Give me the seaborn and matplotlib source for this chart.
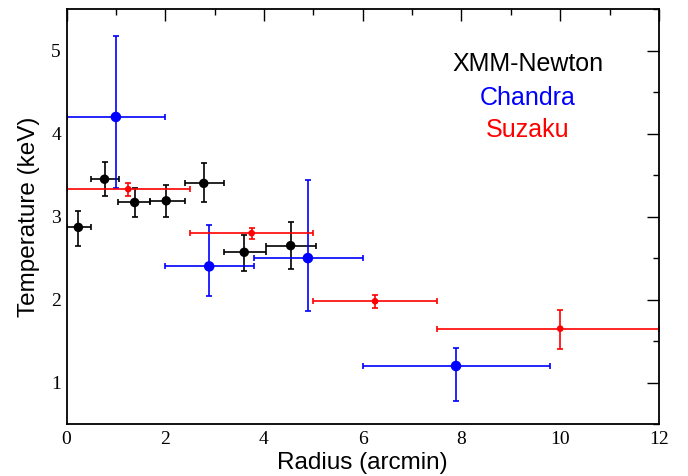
import matplotlib
matplotlib.use("Agg")
import matplotlib.pyplot as plt
import seaborn as sns
import pandas as pd
from matplotlib.ticker import MultipleLocator

# XMM-Newton temperature profile
xmm_r = [0.24, 0.77, 1.38, 2.02, 2.78, 3.60, 4.54]
xmm_rlo = [0.0, 0.49, 1.05, 1.70, 2.39, 3.18, 4.04]
xmm_rhi = [0.49, 1.07, 1.70, 2.39, 3.18, 4.04, 5.05]
xmm_t = [2.87, 3.45, 3.17, 3.19, 3.40, 2.57, 2.65]
xmm_tlo = [2.64, 3.25, 2.99, 2.99, 3.17, 2.35, 2.37]
xmm_thi = [3.07, 3.66, 3.34, 3.38, 3.64, 2.78, 2.93]

# Chandra temperature profile
chandra_r = [1.0, 2.89, 4.89, 7.89]
chandra_rlo = [0.0, 2.0, 3.8, 6.0]
chandra_rhi = [2.0, 3.8, 6.0, 9.8]
chandra_t = [4.20, 2.40, 2.50, 1.20]
chandra_tlo = [3.34, 2.04, 1.86, 0.78]
chandra_thi = [5.18, 2.90, 3.44, 1.42]

# Suzaku temperature profile
suzaku_r = [1.25, 3.75, 6.25, 10.0]
suzaku_rlo = [0.0, 2.5, 5.0, 7.5]
suzaku_rhi = [2.5, 5.0, 7.5, 12.0]
suzaku_t = [3.33, 2.80, 1.98, 1.65]
suzaku_tlo = [3.25, 2.73, 1.90, 1.41]
suzaku_thi = [3.40, 2.86, 2.05, 1.88]

sns.set_theme(style="white")
plt.rcParams["font.family"] = ["Liberation Sans", "DejaVu Sans"]

fig = plt.figure(figsize=(6.88, 4.76), dpi=100)
ax = fig.add_axes([0.0967, 0.109, 0.861, 0.872])

series = [
    ("XMM-Newton", "black", 6.8, xmm_r, xmm_rlo, xmm_rhi, xmm_t, xmm_tlo, xmm_thi),
    ("Chandra", "blue", 7.6, chandra_r, chandra_rlo, chandra_rhi, chandra_t, chandra_tlo, chandra_thi),
    ("Suzaku", "red", 4.8, suzaku_r, suzaku_rlo, suzaku_rhi, suzaku_t, suzaku_tlo, suzaku_thi),
]

for name, color, ms, r, rlo, rhi, t, tlo, thi in series:
    df = pd.DataFrame({"r": r, "rlo": rlo, "rhi": rhi, "t": t, "tlo": tlo, "thi": thi})
    xerr = [df["r"] - df["rlo"], df["rhi"] - df["r"]]
    yerr = [df["t"] - df["tlo"], df["thi"] - df["t"]]
    ax.errorbar(df["r"], df["t"], xerr=xerr, yerr=yerr, fmt="none",
                ecolor=color, elinewidth=1.2, capsize=2, capthick=1.2, zorder=2)
    sns.scatterplot(data=df, x="r", y="t", color=color, s=ms ** 2,
                    edgecolor="none", ax=ax, zorder=3, legend=False)

ax.set_xlim(0, 12)
ax.set_ylim(0.5, 5.5)
ax.xaxis.set_major_locator(MultipleLocator(2))
ax.xaxis.set_minor_locator(MultipleLocator(1))
ax.yaxis.set_major_locator(MultipleLocator(1))
ax.yaxis.set_minor_locator(MultipleLocator(0.5))
ax.tick_params(which="both", direction="in", top=True, right=True,
               color="black", width=1.0, labelcolor="black")
ax.tick_params(which="major", length=8.5)
ax.tick_params(which="minor", length=4.3)
ax.tick_params(axis="x", pad=5)
ax.tick_params(axis="y", pad=4)
for lab in ax.get_xticklabels() + ax.get_yticklabels():
    lab.set_family("Liberation Serif")
    lab.set_fontsize(14)
for sp in ax.spines.values():
    sp.set_color("black")
    sp.set_linewidth(1.3)

ax.set_xlabel("Radius (arcmin)", fontsize=17.5, color="black", labelpad=3)
ax.set_ylabel("Temperature (keV)", fontsize=17.5, color="black", labelpad=8)

ax.text(9.35, 4.84, "XMM-Newton", color="black", fontsize=18, ha="center", va="center")
ax.text(9.35, 4.43, "Chandra", color="blue", fontsize=18, ha="center", va="center")
ax.text(9.35, 4.04, "Suzaku", color="red", fontsize=18, ha="center", va="center")

fig.savefig("out.png", dpi=100)
